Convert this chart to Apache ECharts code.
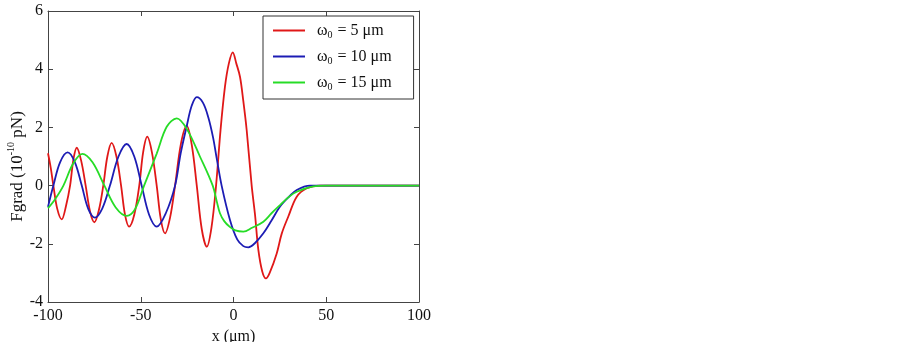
<!DOCTYPE html>
<html>
<head>
<meta charset="utf-8">
<script src="https://cdn.jsdelivr.net/npm/echarts@6/dist/echarts.min.js"></script>
<style>
  html, body { margin: 0; padding: 0; background: #fff; }
  #main { width: 903px; height: 342px; }
</style>
</head>
<body>
<div id="main"></div>
<script>
// values, [x (um), Fgrad (1e-10 pN)]
const red5 = [
  [-100, 1.11], [-98.5, 0.6], [-97.1, 0], [-95, -0.8], [-92.6, -1.16], [-90.3, -0.7],
  [-88.1, 0], [-86.3, 0.9], [-84.5, 1.3], [-82.1, 0.85], [-79.7, 0], [-77.3, -0.9],
  [-75, -1.26], [-72.6, -0.85], [-70.2, 0], [-68, 1.0], [-65.7, 1.47], [-63.1, 1.0],
  [-60.6, 0], [-58.5, -1.0], [-56.3, -1.41], [-53.5, -1.0], [-50.8, 0], [-48.7, 1.15],
  [-46.5, 1.68], [-44, 1.15], [-41.4, 0], [-39.2, -1.15], [-36.9, -1.64], [-34.2, -1.1],
  [-31.5, 0], [-28.3, 1.45], [-25.2, 2.05], [-22.5, 1.4], [-19.8, 0], [-17.1, -1.5],
  [-14.4, -2.1], [-11.9, -1.45], [-9.4, 0], [-7, 1.9], [-4.6, 3.4], [-2.5, 4.2],
  [-0.4, 4.58], [1.5, 4.2], [3.5, 3.74], [5.3, 2.9], [7.1, 1.91], [9.8, 0],
  [11.6, -1.0], [13.4, -2.21], [15.5, -2.95], [17.5, -3.19], [19.5, -3.0], [23.3, -2.33],
  [26, -1.65], [29.5, -1.07], [34.1, -0.38], [39.5, -0.09], [46.6, 0], [100, 0]
];
const blue10 = [
  [-100, -0.73], [-97.1, 0], [-93.5, 0.8], [-89.4, 1.14], [-85.5, 0.8], [-81.8, 0],
  [-78.3, -0.8], [-74.7, -1.1], [-70.7, -0.78], [-66.6, 0], [-62, 1.0], [-57.6, 1.43],
  [-53.5, 1.0], [-49.5, 0], [-45.5, -1.0], [-41.4, -1.41], [-36.5, -0.95], [-31.5, 0],
  [-28.5, 1.1], [-25.2, 2.05], [-22.5, 2.75], [-19.8, 3.04], [-16.5, 2.85], [-13.6, 2.35],
  [-11, 1.65], [-9.1, 0.95], [-6.4, 0], [-1.9, -1.18], [2, -1.85], [5.3, -2.08],
  [8.0, -2.12], [11.5, -1.98], [16.1, -1.64], [20.5, -1.2], [25.1, -0.72], [30, -0.38],
  [34.1, -0.15], [41.2, 0], [100, 0]
];
const green15 = [
  [-100, -0.78], [-96, -0.45], [-91.7, 0], [-86.5, 0.75], [-81.5, 1.09], [-76, 0.8],
  [-69.6, 0], [-63.5, -0.75], [-57.5, -1.04], [-53, -0.8], [-48.2, 0], [-41.4, 1.1],
  [-36, 2.02], [-30.6, 2.31], [-25.2, 1.95], [-18.1, 1.0], [-11.2, 0], [-9, -0.55],
  [-7.3, -0.95], [-5, -1.22], [-2, -1.42], [1, -1.54], [5.3, -1.58], [10, -1.45],
  [16.1, -1.24], [20.5, -0.95], [25.1, -0.67], [30, -0.38], [34.1, -0.21], [43, -0.03],
  [50, 0], [100, 0]
];
const legendNames = ['5', '10', '15'];
const colors = ['#e01818', '#1c1cb4', '#26dc26'];

const chart = echarts.init(document.getElementById('main'));
const font = 'Liberation Serif';
const txt = '#111';

function axisX(pos, labels) {
  return {
    type: 'value', position: pos, min: -100, max: 100, interval: 50,
    axisLine: { onZero: false, lineStyle: { color: '#444', width: 1 } },
    axisTick: { inside: true, length: 5, lineStyle: { color: '#444' } },
    axisLabel: { show: labels, margin: 6, color: txt, fontFamily: font, fontSize: 16 },
    splitLine: { show: false }
  };
}
function axisY(pos, labels) {
  return {
    type: 'value', position: pos, min: -4, max: 6, interval: 2,
    axisLine: { onZero: false, lineStyle: { color: '#444', width: 1 } },
    axisTick: { inside: true, length: 5, lineStyle: { color: '#444' } },
    axisLabel: { show: labels, margin: 5, color: txt, fontFamily: font, fontSize: 16 },
    splitLine: { show: false }
  };
}

const xMain = axisX('bottom', true);
xMain.name = 'x (\u03bcm)';
xMain.nameLocation = 'middle';
xMain.nameGap = 23;
xMain.nameTextStyle = { color: txt, fontFamily: font, fontSize: 16 };

const yMain = axisY('left', true);
yMain.name = '{n|Fgrad (10}{s|-10}{n| pN)}';
yMain.nameLocation = 'middle';
yMain.nameGap = 20;
yMain.nameTextStyle = {
  color: txt, fontFamily: font, fontSize: 17,
  padding: [0, 20, 0, 0],
  rich: {
    n: { fontFamily: font, fontSize: 17, color: txt, verticalAlign: 'bottom', lineHeight: 19 },
    s: { fontFamily: font, fontSize: 10, color: txt, verticalAlign: 'top', lineHeight: 19 }
  }
};

const series = [red5, blue10, green15].map((d, i) => ({
  name: legendNames[i],
  type: 'line',
  data: d,
  smooth: 0.35,
  symbol: 'none',
  lineStyle: { width: 1.8, color: colors[i] },
  itemStyle: { color: colors[i] }
}));

const option = {
  animation: false,
  backgroundColor: '#fff',
  grid: { left: 48, right: 484, top: 11, bottom: 40, outerBoundsMode: 'none' },
  xAxis: [xMain, axisX('top', false)],
  yAxis: [yMain, axisY('right', false)],
  legend: {
    left: 263, top: 16,
    orient: 'vertical',
    icon: 'rect',
    itemWidth: 32, itemHeight: 2, itemGap: 7,
    padding: [5, 22, 7, 10],
    borderColor: '#333', borderWidth: 1,
    data: legendNames,
    formatter: n => '{w|\u03c9}{s|0}{t| = ' + n + ' \u03bcm}',
    textStyle: {
      color: txt, fontFamily: font, fontSize: 16,
      rich: {
        w: { fontFamily: font, fontSize: 16, color: txt, lineHeight: 20, padding: [0, 0, 0, 7] },
        s: { fontFamily: font, fontSize: 10, color: txt, lineHeight: 20, padding: [9, 1, 0, 0] },
        t: { fontFamily: font, fontSize: 16, color: txt, lineHeight: 20 }
      }
    }
  },
  series: series
};

chart.setOption(option);
</script>
</body>
</html>
